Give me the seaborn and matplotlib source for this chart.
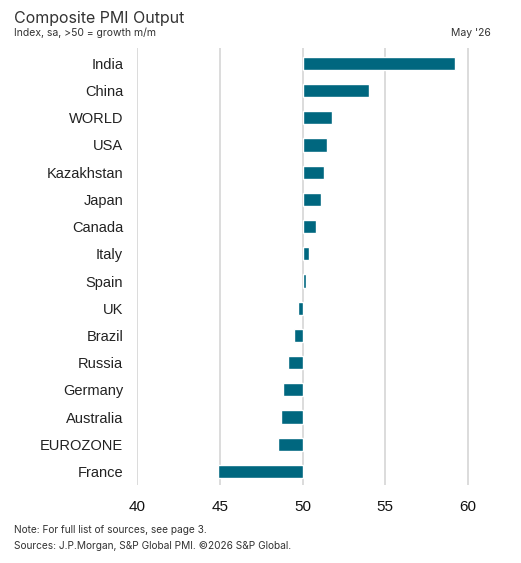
import numpy as np
import matplotlib
matplotlib.use("Agg")
import matplotlib.pyplot as plt
import matplotlib.ticker as mticker
import seaborn as sns

# Composite PMI Output, May '26
countries = ['India', 'China', 'WORLD', 'USA', 'Kazakhstan', 'Japan', 'Canada', 'Italy',
             'Spain', 'UK', 'Brazil', 'Russia', 'Germany', 'Australia', 'EUROZONE', 'France']
pmi = [59.2, 54.0, 51.8, 51.5, 51.3, 51.1, 50.8, 50.4,
       50.2, 49.7, 49.5, 49.1, 48.8, 48.7, 48.5, 44.9]
base = 50
x_ticks = [40, 45, 50, 55, 60]

sns.set_theme(style='white')
plt.rcParams['font.family'] = ['Liberation Sans', 'DejaVu Sans']

fig = plt.figure(figsize=(5.21, 5.63), dpi=100)
ax = fig.add_axes([0.263, 0.1385, 0.699, 0.7755])

# bars start at 50, so plot the gap from 50 and relabel the axis
gap = np.array(pmi) - base
sns.barplot(x=gap, y=countries, orient='h', color='#00677f', saturation=1,
            width=0.48, ax=ax)

ax.set_axisbelow(True)
ax.set_xlim(40 - base, 62 - base)
ax.set_ylim(15.5, -0.55)
ax.set_xticks([t - base for t in x_ticks])
ax.xaxis.set_major_formatter(mticker.FuncFormatter(lambda v, p: f'{v + base:.0f}'))
ax.grid(axis='x', color='#dcdcdc', linewidth=1.4)
ax.grid(axis='y', visible=False)
for s in ax.spines.values():
    s.set_visible(False)
ax.tick_params(axis='x', length=5, width=1.2, color='#dcdcdc', labelsize=11,
               labelcolor='#111111', pad=6)
ax.tick_params(axis='y', length=0, labelsize=10.5, labelcolor='#222222', pad=10)
ax.set_xlabel('')
ax.set_ylabel('')

title_font = ['Inter', 'DejaVu Sans']
fig.text(14 / 521, 1 - 18 / 563, 'Composite PMI Output', fontsize=11.5, color='#333333',
         family=title_font, va='center', ha='left')
fig.text(14 / 521, 1 - 33 / 563, 'Index, sa, >50 = growth m/m', fontsize=7.5, color='#333333',
         family=title_font, va='center', ha='left')
fig.text(491 / 521, 1 - 33 / 563, "May '26", fontsize=7.5, color='#333333',
         family=title_font, va='center', ha='right')
fig.text(14 / 521, 1 - 530 / 563, 'Note: For full list of sources, see page 3.', fontsize=7.3,
         color='#333333', family=title_font, va='center', ha='left')
fig.text(14 / 521, 1 - 546 / 563, 'Sources: J.P.Morgan, S&P Global PMI. \u00a92026 S&P Global.',
         fontsize=7.3, color='#333333', family=title_font, va='center', ha='left')

fig.savefig('out.png', dpi=100)
